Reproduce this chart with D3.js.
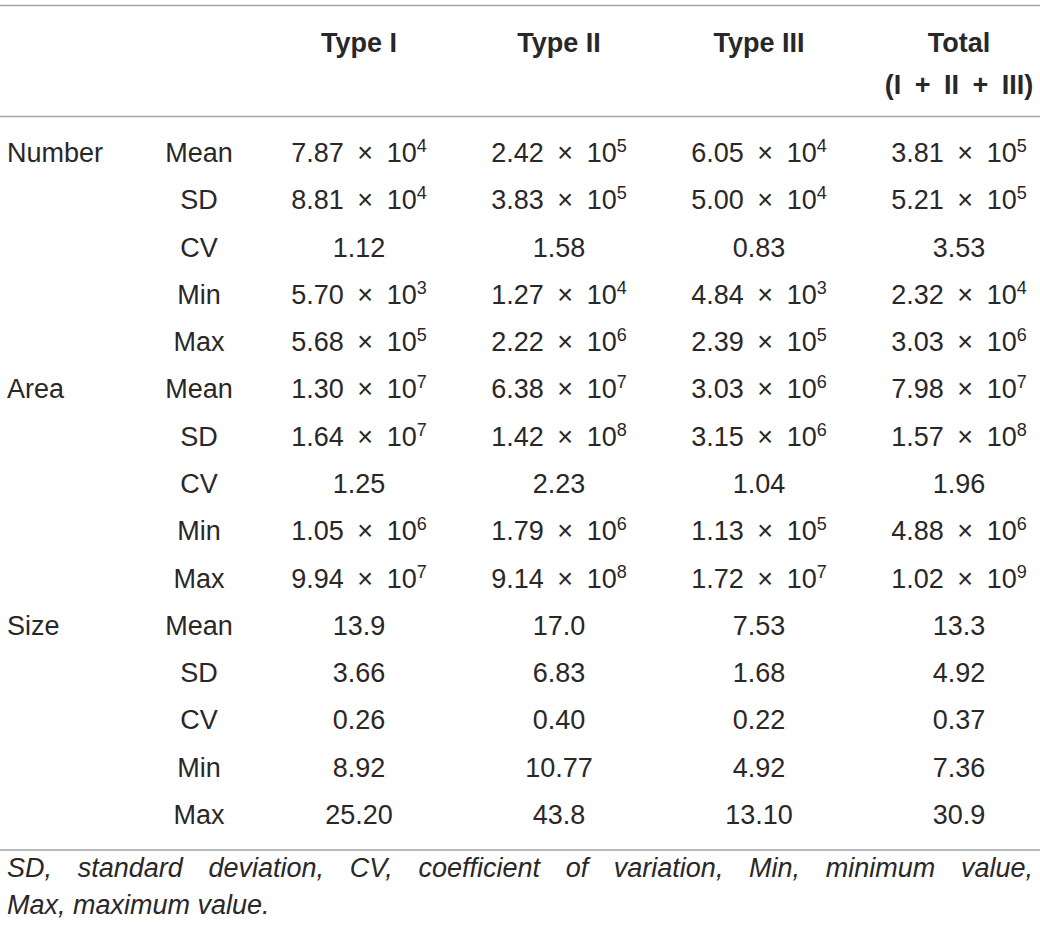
<!DOCTYPE html>
<html>
<head>
<meta charset="utf-8">
<script src="https://cdn.jsdelivr.net/npm/d3@7"></script>
<style>
  body { margin: 0; background: #fff; }
  text { font-family: "Liberation Sans", Arial, sans-serif; fill: #2a2728; }
</style>
</head>
<body>
<svg id="chart" width="1040" height="934"></svg>
<script>
const width = 1040;
const height = 934;

// table content
const groups = ['Number', 'Area', 'Size'];
const stats = ['Mean', 'SD', 'CV', 'Min', 'Max'];
const columns = ['Type I', 'Type II', 'Type III', 'Total'];
const columnSub = ['', '', '', '(I\u2002+\u2002II\u2002+\u2002III)'];

// values are kept as text so trailing zeros survive ("5.00e4", "25.20")
const typeI = [
  '7.87e4', '8.81e4', '1.12', '5.70e3', '5.68e5',
  '1.30e7', '1.64e7', '1.25', '1.05e6', '9.94e7',
  '13.9', '3.66', '0.26', '8.92', '25.20',
];
const typeII = [
  '2.42e5', '3.83e5', '1.58', '1.27e4', '2.22e6',
  '6.38e7', '1.42e8', '2.23', '1.79e6', '9.14e8',
  '17.0', '6.83', '0.40', '10.77', '43.8',
];
const typeIII = [
  '6.05e4', '5.00e4', '0.83', '4.84e3', '2.39e5',
  '3.03e6', '3.15e6', '1.04', '1.13e5', '1.72e7',
  '7.53', '1.68', '0.22', '4.92', '13.10',
];
const total = [
  '3.81e5', '5.21e5', '3.53', '2.32e4', '3.03e6',
  '7.98e7', '1.57e8', '1.96', '4.88e6', '1.02e9',
  '13.3', '4.92', '0.37', '7.36', '30.9',
];
const footnote = 'SD, standard deviation, CV, coefficient of variation, Min, minimum value, Max, maximum value.';

const series = [typeI, typeII, typeIII, total];
const rows = [];
groups.forEach((g) => stats.forEach((s, i) => rows.push({ group: i === 0 ? g : '', stat: s })));

const svg = d3.select('#chart');

// column centres
const xScale = d3.scalePoint()
  .domain(columns)
  .range([359, 959]);
// row baselines
const yScale = d3.scaleLinear()
  .domain([0, rows.length - 1])
  .range([162, 824]);

const fontSize = 27;
const ruleColor = '#a3a3a3';

// horizontal rules
[5.5, 116.5, 850].forEach((y) => {
  svg.append('line')
    .attr('x1', 0).attr('x2', width)
    .attr('y1', y).attr('y2', y)
    .attr('stroke', ruleColor)
    .attr('stroke-width', 1.6);
});

// header
const head = svg.append('g').attr('class', 'header');
head.selectAll('text.h1')
  .data(columns)
  .join('text')
    .attr('class', 'h1')
    .attr('x', (d) => xScale(d))
    .attr('y', 52)
    .attr('text-anchor', 'middle')
    .attr('font-size', fontSize)
    .attr('font-weight', 'bold')
    .text((d) => d);
head.selectAll('text.h2')
  .data(columns.map((c, i) => ({ c, sub: columnSub[i] })).filter((d) => d.sub))
  .join('text')
    .attr('class', 'h2')
    .attr('x', (d) => xScale(d.c))
    .attr('y', 94)
    .attr('text-anchor', 'middle')
    .attr('font-size', fontSize)
    .attr('font-weight', 'bold')
    .text((d) => d.sub);

// row labels
const body = svg.append('g').attr('class', 'body');
body.selectAll('text.group')
  .data(rows)
  .join('text')
    .attr('class', 'group')
    .attr('x', 7)
    .attr('y', (d, i) => yScale(i))
    .attr('font-size', fontSize)
    .text((d) => d.group);
body.selectAll('text.stat')
  .data(rows)
  .join('text')
    .attr('class', 'stat')
    .attr('x', 199)
    .attr('y', (d, i) => yScale(i))
    .attr('text-anchor', 'middle')
    .attr('font-size', fontSize)
    .text((d) => d.stat);

// cells
function writeValue(sel, v) {
  if (v.includes('e')) {
    const [m, e] = v.split('e');
    sel.append('tspan').text(m + '\u2002\u00d7\u200210');
    sel.append('tspan')
      .attr('font-size', 18)
      .attr('dy', -10)
      .text(e);
  } else {
    sel.text(v);
  }
}

series.forEach((vals, ci) => {
  const col = columns[ci];
  body.selectAll('text.c' + ci)
    .data(vals)
    .join('text')
      .attr('class', 'c' + ci)
      .attr('x', xScale(col))
      .attr('y', (d, i) => yScale(i))
      .attr('text-anchor', 'middle')
      .attr('font-size', fontSize)
      .each(function (d) { writeValue(d3.select(this), d); });
});

// footnote, first line justified
const words = footnote.split(' ');
const line1 = words.slice(0, 10);
const line2 = words.slice(10);
const left = 7;
const right = 1033;
const note = svg.append('g').attr('class', 'note')
  .attr('font-size', fontSize)
  .attr('font-style', 'italic');

const w1 = note.selectAll('text.w1')
  .data(line1)
  .join('text')
    .attr('class', 'w1')
    .attr('y', 877)
    .text((d) => d);
const lens = [];
w1.each(function () { lens.push(this.getComputedTextLength()); });
const gap = (right - left - d3.sum(lens)) / (line1.length - 1);
let cx = left;
w1.attr('x', (d, i) => {
  const x = cx;
  cx += lens[i] + gap;
  return x;
});

note.append('text')
  .attr('x', left)
  .attr('y', 914)
  .text(line2.join(' '));
</script>
</body>
</html>
